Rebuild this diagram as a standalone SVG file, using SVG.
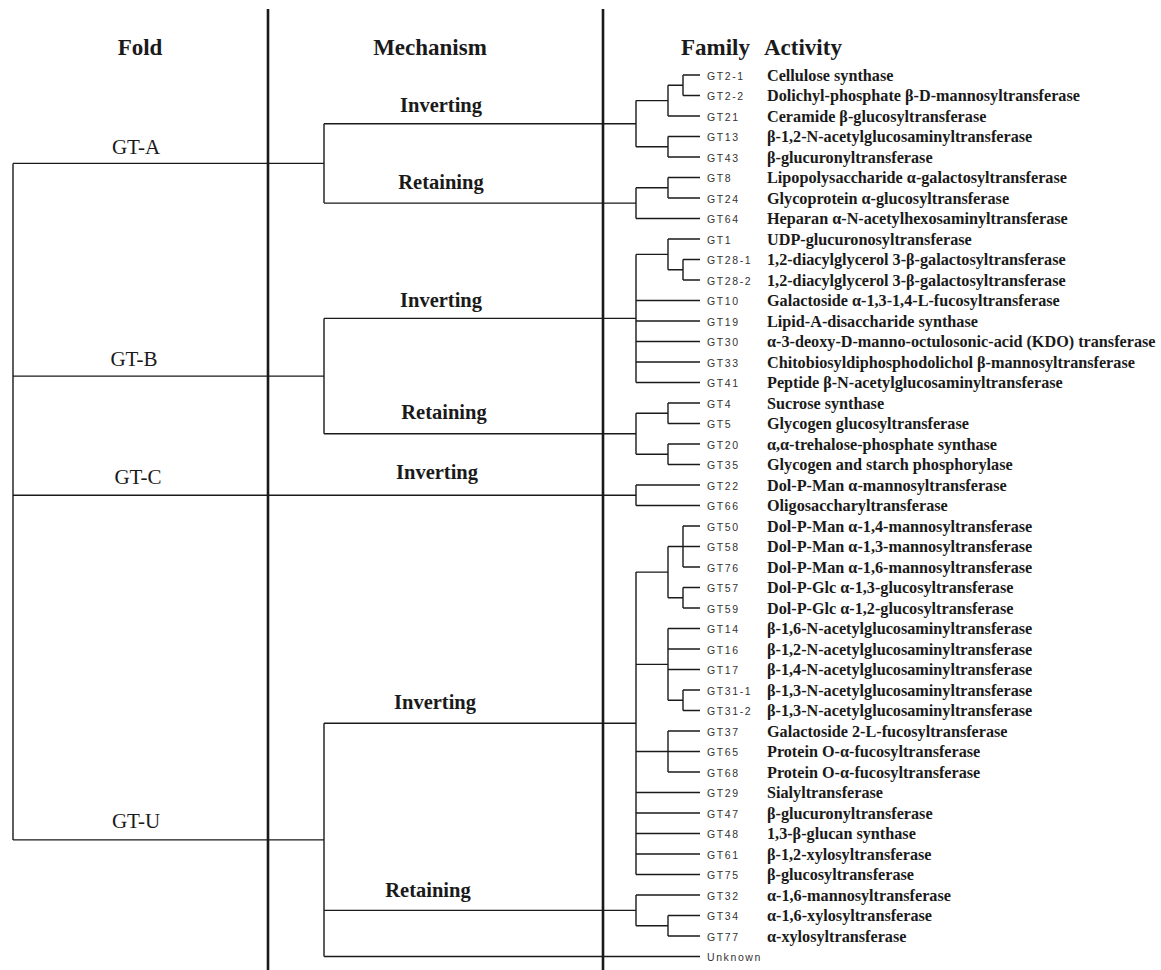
<svg xmlns="http://www.w3.org/2000/svg" width="1161" height="970" viewBox="0 0 1161 970">
<style>
.hd{font-family:"Liberation Serif","Times New Roman",serif;font-weight:bold;font-size:23px;fill:#1a1a1a}
.fold{font-family:"Liberation Serif","Times New Roman",serif;font-size:21px;fill:#1a1a1a;text-anchor:middle}
.mech{font-family:"Liberation Serif","Times New Roman",serif;font-weight:bold;font-size:20.5px;fill:#1a1a1a;text-anchor:middle}
.code{font-family:"Liberation Sans",Arial,sans-serif;font-size:10.5px;letter-spacing:1.6px;fill:#333}
.act{font-family:"Liberation Serif","Times New Roman",serif;font-weight:bold;font-size:16.2px;fill:#1a1a1a}
.ln{fill:none;stroke:#1a1a1a;stroke-width:1.4}
.div{fill:none;stroke:#1a1a1a;stroke-width:2.6}
</style>
<rect width="1161" height="970" fill="#fff"/>
<g id="headers">
<text class="hd" x="140" y="55" text-anchor="middle">Fold</text>
<text class="hd" x="430" y="55" text-anchor="middle">Mechanism</text>
<text class="hd" x="681" y="55">Family</text>
<text class="hd" x="764" y="55">Activity</text>
</g>
<g id="connectors">
<path class="ln" d="M13 163.4V839.9M13 163.4H324M13 376.1H324M13 495.25H636M13 839.9H324"/>
<path class="ln" d="M324 123.7V203.1M324 123.7H636M324 203.1H636M324 318.4V433.75M324 318.4H636M324 433.75H636M324 723.3V956.5M324 723.3H636M324 910.4H636M324 956.5H700"/>
<path class="ln" d="M636 100.6V146.75M636 100.6H668M668 85.25V116M668 85.25H683M683 75V95.5M683 75H700M683 95.5H700M668 116H700M636 146.75H668M668 136.5V157M668 136.5H700M668 157H700"/>
<path class="ln" d="M636 187.75V218.5M636 187.75H668M668 177.5V198M668 177.5H700M668 198H700M636 218.5H700"/>
<path class="ln" d="M636 254.4V382.5M636 254.4H668M668 239V269.75M668 239H700M668 269.75H683M683 259.5V280M683 259.5H700M683 280H700M636 300.5H700M636 321H700M636 341.5H700M636 362H700M636 382.5H700"/>
<path class="ln" d="M636 413.25V454.25M636 413.25H668M668 403V423.5M668 403H700M668 423.5H700M636 454.25H668M668 444V464.5M668 444H700M668 464.5H700"/>
<path class="ln" d="M636 485V505.5M636 485H700M636 505.5H700"/>
<path class="ln" d="M636 572.1V874.5M636 572.1H668M668 546.5V597.75M668 546.5H683M683 526V567M683 526H700M683 546.5H700M683 567H700M668 597.75H683M683 587.5V608M683 587.5H700M683 608H700M636 664.4H668M668 628.5V700.25M668 628.5H700M668 649H700M668 669.5H700M668 700.25H683M683 690V710.5M683 690H700M683 710.5H700M636 751.5H668M668 731V772M668 731H700M668 751.5H700M668 772H700M636 792.5H700M636 813H700M636 833.5H700M636 854H700M636 874.5H700"/>
<path class="ln" d="M636 895V925.75M636 895H700M636 925.75H668M668 915.5V936M668 915.5H700M668 936H700"/>
<path class="div" d="M268 9V970M603 9V970"/>
</g>
<g id="fold-GT-A"><text class="fold" x="136" y="154">GT-A</text></g>
<g id="fold-GT-B"><text class="fold" x="134" y="366">GT-B</text></g>
<g id="fold-GT-C"><text class="fold" x="138" y="484">GT-C</text></g>
<g id="fold-GT-U"><text class="fold" x="136" y="828">GT-U</text></g>
<g id="mech-A-inv"><text class="mech" x="441" y="112">Inverting</text></g>
<g id="mech-A-ret"><text class="mech" x="441" y="189">Retaining</text></g>
<g id="mech-B-inv"><text class="mech" x="441" y="307">Inverting</text></g>
<g id="mech-B-ret"><text class="mech" x="444" y="419">Retaining</text></g>
<g id="mech-C-inv"><text class="mech" x="437" y="479">Inverting</text></g>
<g id="mech-U-inv"><text class="mech" x="435" y="709">Inverting</text></g>
<g id="mech-U-ret"><text class="mech" x="428" y="897">Retaining</text></g>
<g id="GT2-1"><text class="code" x="707" y="79.5">GT2-1</text><text class="act" x="767" y="80.5">Cellulose synthase</text></g>
<g id="GT2-2"><text class="code" x="707" y="100">GT2-2</text><text class="act" x="767" y="101">Dolichyl-phosphate β-D-mannosyltransferase</text></g>
<g id="GT21"><text class="code" x="707" y="120.5">GT21</text><text class="act" x="767" y="121.5">Ceramide β-glucosyltransferase</text></g>
<g id="GT13"><text class="code" x="707" y="141">GT13</text><text class="act" x="767" y="142">β-1,2-N-acetylglucosaminyltransferase</text></g>
<g id="GT43"><text class="code" x="707" y="161.5">GT43</text><text class="act" x="767" y="162.5">β-glucuronyltransferase</text></g>
<g id="GT8"><text class="code" x="707" y="182">GT8</text><text class="act" x="767" y="183">Lipopolysaccharide α-galactosyltransferase</text></g>
<g id="GT24"><text class="code" x="707" y="202.5">GT24</text><text class="act" x="767" y="203.5">Glycoprotein α-glucosyltransferase</text></g>
<g id="GT64"><text class="code" x="707" y="223">GT64</text><text class="act" x="767" y="224">Heparan α-N-acetylhexosaminyltransferase</text></g>
<g id="GT1"><text class="code" x="707" y="243.5">GT1</text><text class="act" x="767" y="244.5">UDP-glucuronosyltransferase</text></g>
<g id="GT28-1"><text class="code" x="707" y="264">GT28-1</text><text class="act" x="767" y="265">1,2-diacylglycerol 3-β-galactosyltransferase</text></g>
<g id="GT28-2"><text class="code" x="707" y="284.5">GT28-2</text><text class="act" x="767" y="285.5">1,2-diacylglycerol 3-β-galactosyltransferase</text></g>
<g id="GT10"><text class="code" x="707" y="305">GT10</text><text class="act" x="767" y="306">Galactoside α-1,3-1,4-L-fucosyltransferase</text></g>
<g id="GT19"><text class="code" x="707" y="325.5">GT19</text><text class="act" x="767" y="326.5">Lipid-A-disaccharide synthase</text></g>
<g id="GT30"><text class="code" x="707" y="346">GT30</text><text class="act" x="767" y="347">α-3-deoxy-D-manno-octulosonic-acid (KDO) transferase</text></g>
<g id="GT33"><text class="code" x="707" y="366.5">GT33</text><text class="act" x="767" y="367.5">Chitobiosyldiphosphodolichol β-mannosyltransferase</text></g>
<g id="GT41"><text class="code" x="707" y="387">GT41</text><text class="act" x="767" y="388">Peptide β-N-acetylglucosaminyltransferase</text></g>
<g id="GT4"><text class="code" x="707" y="407.5">GT4</text><text class="act" x="767" y="408.5">Sucrose synthase</text></g>
<g id="GT5"><text class="code" x="707" y="428">GT5</text><text class="act" x="767" y="429">Glycogen glucosyltransferase</text></g>
<g id="GT20"><text class="code" x="707" y="448.5">GT20</text><text class="act" x="767" y="449.5">α,α-trehalose-phosphate synthase</text></g>
<g id="GT35"><text class="code" x="707" y="469">GT35</text><text class="act" x="767" y="470">Glycogen and starch phosphorylase</text></g>
<g id="GT22"><text class="code" x="707" y="489.5">GT22</text><text class="act" x="767" y="490.5">Dol-P-Man α-mannosyltransferase</text></g>
<g id="GT66"><text class="code" x="707" y="510">GT66</text><text class="act" x="767" y="511">Oligosaccharyltransferase</text></g>
<g id="GT50"><text class="code" x="707" y="530.5">GT50</text><text class="act" x="767" y="531.5">Dol-P-Man α-1,4-mannosyltransferase</text></g>
<g id="GT58"><text class="code" x="707" y="551">GT58</text><text class="act" x="767" y="552">Dol-P-Man α-1,3-mannosyltransferase</text></g>
<g id="GT76"><text class="code" x="707" y="571.5">GT76</text><text class="act" x="767" y="572.5">Dol-P-Man α-1,6-mannosyltransferase</text></g>
<g id="GT57"><text class="code" x="707" y="592">GT57</text><text class="act" x="767" y="593">Dol-P-Glc α-1,3-glucosyltransferase</text></g>
<g id="GT59"><text class="code" x="707" y="612.5">GT59</text><text class="act" x="767" y="613.5">Dol-P-Glc α-1,2-glucosyltransferase</text></g>
<g id="GT14"><text class="code" x="707" y="633">GT14</text><text class="act" x="767" y="634">β-1,6-N-acetylglucosaminyltransferase</text></g>
<g id="GT16"><text class="code" x="707" y="653.5">GT16</text><text class="act" x="767" y="654.5">β-1,2-N-acetylglucosaminyltransferase</text></g>
<g id="GT17"><text class="code" x="707" y="674">GT17</text><text class="act" x="767" y="675">β-1,4-N-acetylglucosaminyltransferase</text></g>
<g id="GT31-1"><text class="code" x="707" y="694.5">GT31-1</text><text class="act" x="767" y="695.5">β-1,3-N-acetylglucosaminyltransferase</text></g>
<g id="GT31-2"><text class="code" x="707" y="715">GT31-2</text><text class="act" x="767" y="716">β-1,3-N-acetylglucosaminyltransferase</text></g>
<g id="GT37"><text class="code" x="707" y="735.5">GT37</text><text class="act" x="767" y="736.5">Galactoside 2-L-fucosyltransferase</text></g>
<g id="GT65"><text class="code" x="707" y="756">GT65</text><text class="act" x="767" y="757">Protein O-α-fucosyltransferase</text></g>
<g id="GT68"><text class="code" x="707" y="776.5">GT68</text><text class="act" x="767" y="777.5">Protein O-α-fucosyltransferase</text></g>
<g id="GT29"><text class="code" x="707" y="797">GT29</text><text class="act" x="767" y="798">Sialyltransferase</text></g>
<g id="GT47"><text class="code" x="707" y="817.5">GT47</text><text class="act" x="767" y="818.5">β-glucuronyltransferase</text></g>
<g id="GT48"><text class="code" x="707" y="838">GT48</text><text class="act" x="767" y="839">1,3-β-glucan synthase</text></g>
<g id="GT61"><text class="code" x="707" y="858.5">GT61</text><text class="act" x="767" y="859.5">β-1,2-xylosyltransferase</text></g>
<g id="GT75"><text class="code" x="707" y="879">GT75</text><text class="act" x="767" y="880">β-glucosyltransferase</text></g>
<g id="GT32"><text class="code" x="707" y="899.5">GT32</text><text class="act" x="767" y="900.5">α-1,6-mannosyltransferase</text></g>
<g id="GT34"><text class="code" x="707" y="920">GT34</text><text class="act" x="767" y="921">α-1,6-xylosyltransferase</text></g>
<g id="GT77"><text class="code" x="707" y="940.5">GT77</text><text class="act" x="767" y="941.5">α-xylosyltransferase</text></g>
<g id="Unknown"><text class="code" x="707" y="961">Unknown</text></g>
</svg>
